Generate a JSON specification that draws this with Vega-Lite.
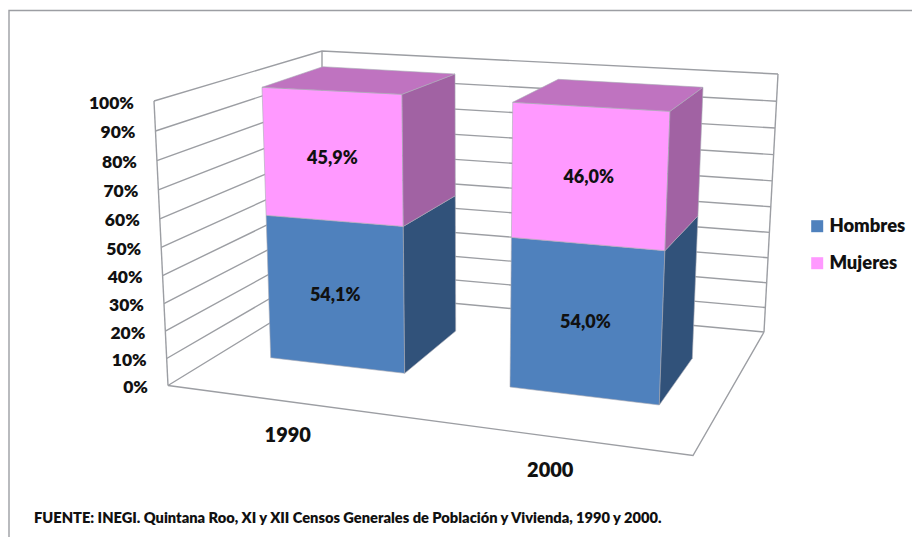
{
"$schema":"https://vega.github.io/schema/vega-lite/v6.json",
"width":912,"height":537,"padding":0,"autosize":{"type":"none"},
"background":"white",
"view":{"stroke":null},
"params":[{"name":"esquinas","value":{
"1990":{"FL":[270.7,357.7,262,87.3],"FR":[404.7,373.3,402,94.3],"BR":[455.7,331,455,74],"BL":[330,310,322.7,66.7]},
"2000":{"FL":[510,387,512.7,102.3],"FR":[659.3,405,670,111.3],"BR":[692.3,358.3,703,87.3],"BL":[550,340,558.3,79.3]},
"muro":{"FI":[168,385.5,154,101],"BI":[322,291,322,51],"BD":[764,332,778,74],"FD":[693,455.5,693,455.5],"M0":[9,537,9,537],"M1":[9,10.5,9,10.5],"M2":[912,10.5,912,10.5]}
}}],
"data":{"values":[
{"anio":1990,"sexo":"Hombres","valor":54.1},
{"anio":1990,"sexo":"Mujeres","valor":45.9},
{"anio":2000,"sexo":"Hombres","valor":54.0},
{"anio":2000,"sexo":"Mujeres","valor":46.0}
]},
"title":{"text":"FUENTE: INEGI. Quintana Roo, XI y XII Censos Generales  de Población y Vivienda, 1990 y 2000.","orient":"bottom","anchor":"start","frame":"group","align":"left","dx":34,"dy":-29,"offset":0,"font":"Lato","fontSize":14.65,"fontWeight":800,"color":"#111111"},
"encoding":{
"x":{"field":"xp","type":"quantitative","scale":{"domain":[0,912],"nice":false,"zero":false},"axis":null},
"y":{"field":"yp","type":"quantitative","scale":{"domain":[537,0],"nice":false,"zero":false},"axis":null}
},
"layer":[
{
"data":{"values":[
{"trazo":"marco"},{"trazo":"suelo"},{"trazo":"izq"},{"trazo":"fondo"},{"trazo":"der"},
{"trazo":"p0","pct":0},{"trazo":"p10","pct":10},{"trazo":"p20","pct":20},{"trazo":"p30","pct":30},{"trazo":"p40","pct":40},{"trazo":"p50","pct":50},{"trazo":"p60","pct":60},{"trazo":"p70","pct":70},{"trazo":"p80","pct":80},{"trazo":"p90","pct":90},{"trazo":"p100","pct":100}
]},
"transform":[
{"calculate":"datum.trazo==='marco'?[['M0',0],['M1',0],['M2',0]]:datum.trazo==='suelo'?[['FI',0],['FD',0],['BD',0]]:datum.trazo==='izq'?[['FI',0],['FI',100],['FI',100]]:datum.trazo==='fondo'?[['BI',0],['BI',100],['BI',100]]:datum.trazo==='der'?[['BD',0],['BD',100],['BD',100]]:[['FI',datum.pct],['BI',datum.pct],['BD',datum.pct]]","as":"ruta"},
{"calculate":"[0,1,2]","as":"orden"},
{"flatten":["orden"]},
{"calculate":"datum.ruta[datum.orden][1]/100","as":"n"},
{"calculate":"datum.n/(datum.n+(1-datum.n)*1.06)","as":"w"},
{"calculate":"esquinas.muro[datum.ruta[datum.orden][0]]","as":"a"},
{"calculate":"datum.a[0]+(datum.a[2]-datum.a[0])*datum.w","as":"xp"},
{"calculate":"datum.a[1]+(datum.a[3]-datum.a[1])*datum.w","as":"yp"}
],
"mark":{"type":"line","stroke":"#9c9ea3","strokeWidth":1.4,"interpolate":"linear"},
"encoding":{"detail":{"field":"trazo"},"order":{"field":"orden","type":"quantitative"}}
},
{
"transform":[
{"stack":"valor","groupby":["anio"],"sort":[{"field":"sexo","order":"ascending"}],"as":["v0","v1"]},
{"calculate":"datum.sexo==='Mujeres'?['frente','lado','tapa']:['frente','lado']","as":"cara"},
{"flatten":["cara"]},
{"calculate":"[0,1,2,3,4]","as":"orden"},
{"flatten":["orden"]},
{"calculate":"{frente:['FL','FR','FR','FL','FL'],lado:['FR','BR','BR','FR','FR'],tapa:['FL','FR','BR','BL','FL']}[datum.cara][datum.orden]","as":"arista"},
{"calculate":"datum.cara==='tapa'?1:((datum.orden===0||datum.orden===1||datum.orden===4)?datum.v0:datum.v1)/100","as":"n"},
{"calculate":"datum.n/(datum.n+(1-datum.n)*1.06)","as":"w"},
{"calculate":"esquinas[datum.anio][datum.arista]","as":"a"},
{"calculate":"datum.a[0]+(datum.a[2]-datum.a[0])*datum.w","as":"xp"},
{"calculate":"datum.a[1]+(datum.a[3]-datum.a[1])*datum.w","as":"yp"},
{"calculate":"datum.cara==='frente'?datum.sexo:datum.sexo+' '+datum.cara","as":"tono"}
],
"mark":{"type":"line","filled":true,"stroke":"#a9abb5","strokeWidth":0.6,"interpolate":"linear"},
"encoding":{
"fill":{"field":"tono","type":"nominal","scale":{"domain":["Hombres","Mujeres","Hombres lado","Mujeres lado","Mujeres tapa"],"range":["#4f81bd","#ff99ff","#31527a","#a162a3","#bf73c0"]},
"legend":{"values":["Hombres","Mujeres"],"title":null,"orient":"none","legendX":808,"legendY":217,"symbolType":"square","symbolSize":144,"symbolStrokeWidth":0,"symbolOpacity":1,"labelFont":"Lato","labelFontSize":18.4,"labelFontWeight":800,"labelColor":"#111111","labelOffset":3,"rowPadding":18,"symbolOffset":0}},
"detail":[{"field":"anio"},{"field":"cara"},{"field":"sexo"}],
"order":{"field":"orden","type":"quantitative"}
}
},
{
"transform":[
{"stack":"valor","groupby":["anio"],"sort":[{"field":"sexo","order":"ascending"}],"as":["v0","v1"]},
{"calculate":"(datum.v0+datum.v1)/200","as":"n"},
{"calculate":"datum.n/(datum.n+(1-datum.n)*1.06)","as":"w"},
{"calculate":"esquinas[datum.anio].FL","as":"i"},
{"calculate":"esquinas[datum.anio].FR","as":"d"},
{"calculate":"(datum.i[0]+(datum.i[2]-datum.i[0])*datum.w+datum.d[0]+(datum.d[2]-datum.d[0])*datum.w)/2","as":"xp"},
{"calculate":"(datum.i[1]+(datum.i[3]-datum.i[1])*datum.w+datum.d[1]+(datum.d[3]-datum.d[1])*datum.w)/2","as":"yp"},
{"calculate":"replace(format(datum.valor,'.1f'),'.',',')+'%'","as":"etiqueta"}
],
"mark":{"type":"text","font":"Lato","fontSize":18,"fontWeight":800,"color":"#111111","align":"center","baseline":"middle","dx":-1,"dy":2},
"encoding":{"text":{"field":"etiqueta"}}
},
{
"data":{"values":[{"pct":0},{"pct":10},{"pct":20},{"pct":30},{"pct":40},{"pct":50},{"pct":60},{"pct":70},{"pct":80},{"pct":90},{"pct":100}]},
"transform":[
{"calculate":"datum.pct/100","as":"n"},
{"calculate":"datum.n/(datum.n+(1-datum.n)*1.06)","as":"w"},
{"calculate":"esquinas.muro.FI[0]+(esquinas.muro.FI[2]-esquinas.muro.FI[0])*datum.w","as":"xp"},
{"calculate":"esquinas.muro.FI[1]+(esquinas.muro.FI[3]-esquinas.muro.FI[1])*datum.w","as":"yp"},
{"calculate":"datum.pct+'%'","as":"rotulo"}
],
"mark":{"type":"text","font":"Lato","fontSize":17.5,"fontWeight":800,"color":"#111111","align":"right","baseline":"middle","dx":-20,"dy":2.5},
"encoding":{"text":{"field":"rotulo"}}
},
{
"data":{"values":[{"anio":1990,"t":0.25},{"anio":2000,"t":0.75}]},
"transform":[
{"calculate":"esquinas.muro.FI[0]+(esquinas.muro.FD[0]-esquinas.muro.FI[0])*datum.t","as":"xp"},
{"calculate":"esquinas.muro.FI[1]+(esquinas.muro.FD[1]-esquinas.muro.FI[1])*datum.t","as":"yp"}
],
"mark":{"type":"text","font":"Lato","fontSize":20,"fontWeight":800,"color":"#111111","align":"center","baseline":"middle","dx":-11.5,"dy":33},
"encoding":{"text":{"field":"anio","type":"nominal"}}
}
]
}
